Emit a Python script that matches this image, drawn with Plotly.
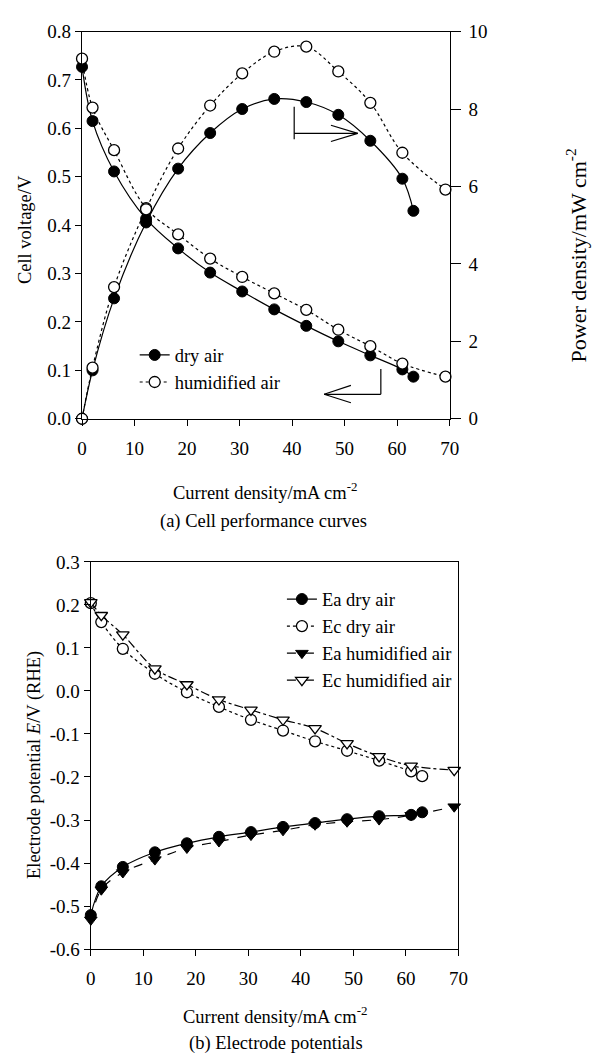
import plotly.graph_objects as go

# Current density (mA cm^-2)
i_dry = [0, 2.0, 6.1, 12.2, 18.3, 24.4, 30.5, 36.6, 42.7, 48.8, 54.9, 61.0, 63.1]
i_hum = [0, 2.0, 6.1, 12.2, 18.3, 24.4, 30.5, 36.6, 42.7, 48.8, 54.9, 61.0, 69.2]

# (a) Cell voltage (V) and power density (mW cm^-2)
v_dry = [0.727, 0.615, 0.511, 0.413, 0.352, 0.302, 0.263, 0.226, 0.192, 0.160, 0.131, 0.102, 0.087]
v_hum = [0.744, 0.643, 0.555, 0.435, 0.381, 0.331, 0.293, 0.259, 0.225, 0.184, 0.150, 0.114, 0.087]
p_dry = [0, 1.25, 3.11, 5.07, 6.46, 7.38, 8.00, 8.26, 8.18, 7.85, 7.18, 6.20, 5.37]
p_hum = [0, 1.32, 3.40, 5.41, 6.98, 8.09, 8.92, 9.48, 9.61, 8.97, 8.16, 6.87, 5.92]

# (b) Anode / cathode potentials (V vs RHE)
ea_dry = [-0.521, -0.454, -0.409, -0.375, -0.354, -0.339, -0.328, -0.316, -0.307, -0.298, -0.291, -0.288, -0.282]
ec_dry = [0.204, 0.160, 0.098, 0.040, -0.003, -0.037, -0.067, -0.092, -0.117, -0.139, -0.162, -0.187, -0.198]
ea_hum = [-0.532, -0.462, -0.422, -0.392, -0.365, -0.350, -0.335, -0.324, -0.311, -0.304, -0.299, -0.289, -0.269]
ec_hum = [0.206, 0.176, 0.131, 0.052, 0.015, -0.020, -0.044, -0.067, -0.087, -0.122, -0.152, -0.174, -0.184]

x_ticks = [0, 10, 20, 30, 40, 50, 60, 70]
v_ticks = [0.0, 0.1, 0.2, 0.3, 0.4, 0.5, 0.6, 0.7, 0.8]
p_ticks = [0, 2, 4, 6, 8, 10]
e_ticks = [0.3, 0.2, 0.1, 0.0, -0.1, -0.2, -0.3, -0.4, -0.5, -0.6]

W, H = 602, 1064
FONT = "Times New Roman, Liberation Serif, DejaVu Serif, serif"
FS = 18.5      # titles and legend
TFS = 19       # tick labels
LW = 1.2


def px_x(p):
    return p / W


def px_y(p):
    return 1 - p / H


def filled(sym):
    return dict(symbol=sym, size=11, color="black", line=dict(color="black", width=1))


def hollow(sym):
    return dict(symbol=sym, size=11, color="white", line=dict(color="black", width=1.3))


fig = go.Figure()

common = dict(mode="lines+markers", line_shape="spline", cliponaxis=False)

# top panel: voltage on y, power on y2
fig.add_trace(go.Scatter(x=i_dry, y=v_dry, name="dry air", xaxis="x", yaxis="y",
                         line=dict(color="black", width=LW), marker=filled("circle"),
                         legend="legend", **common))
fig.add_trace(go.Scatter(x=i_hum, y=v_hum, name="humidified air", xaxis="x", yaxis="y",
                         line=dict(color="black", width=LW, dash="dot"), marker=hollow("circle"),
                         legend="legend", **common))
fig.add_trace(go.Scatter(x=i_dry, y=p_dry, name="dry air", xaxis="x", yaxis="y2",
                         line=dict(color="black", width=LW), marker=filled("circle"),
                         showlegend=False, **common))
fig.add_trace(go.Scatter(x=i_hum, y=p_hum, name="humidified air", xaxis="x", yaxis="y2",
                         line=dict(color="black", width=LW, dash="dot"), marker=hollow("circle"),
                         showlegend=False, **common))

# bottom panel: electrode potentials
fig.add_trace(go.Scatter(x=i_dry, y=ea_dry, name="Ea dry air", xaxis="x2", yaxis="y3",
                         line=dict(color="black", width=LW), marker=filled("circle"),
                         legend="legend2", **common))
fig.add_trace(go.Scatter(x=i_dry, y=ec_dry, name="Ec dry air", xaxis="x2", yaxis="y3",
                         line=dict(color="black", width=LW, dash="dot"), marker=hollow("circle"),
                         legend="legend2", **common))
fig.add_trace(go.Scatter(x=i_hum, y=ea_hum, name="Ea humidified air", xaxis="x2", yaxis="y3",
                         line=dict(color="black", width=LW, dash="dash"), marker=filled("triangle-down"),
                         legend="legend2", **common))
fig.add_trace(go.Scatter(x=i_hum, y=ec_hum, name="Ec humidified air", xaxis="x2", yaxis="y3",
                         line=dict(color="black", width=LW, dash="dashdot"), marker=hollow("triangle-down"),
                         legend="legend2", **common))

tickfont = dict(family=FONT, size=TFS, color="black")
axis_common = dict(showgrid=False, zeroline=False, showline=True, linecolor="black", linewidth=1.3,
                   ticks="outside", ticklen=6, tickwidth=1.2, tickcolor="black", tickfont=tickfont)

fig.update_layout(
    width=W, height=H,
    margin=dict(l=0, r=0, t=0, b=0),
    paper_bgcolor="white", plot_bgcolor="white",
    font=dict(family=FONT, size=FS, color="black"),
    xaxis=dict(domain=[px_x(79), px_x(456)], range=[0, 70], anchor="y",
               tickvals=x_ticks, mirror=True, ticklabelstandoff=6, **axis_common),
    yaxis=dict(domain=[px_y(417), px_y(22)], range=[0, 0.8], anchor="x",
               tickvals=v_ticks, ticktext=[f"{v:.1f}" for v in v_ticks], **axis_common),
    yaxis2=dict(range=[0, 10], overlaying="y", side="right", anchor="x",
                tickvals=p_ticks, ticklabelstandoff=4, **{**axis_common, "ticklen": 10}),
    xaxis2=dict(domain=[px_x(88), px_x(465)], range=[0, 70], anchor="y3",
                tickvals=x_ticks, mirror=True, ticklabelstandoff=6, **axis_common),
    yaxis3=dict(domain=[px_y(958), px_y(563)], range=[-0.6, 0.3], anchor="x2",
                tickvals=e_ticks, ticktext=[f"{v:.1f}" for v in e_ticks],
                mirror=True, **axis_common),
    legend=dict(x=px_x(133), y=px_y(333), xanchor="left", yanchor="top",
                bgcolor="rgba(0,0,0,0)", font=dict(family=FONT, size=FS), tracegroupgap=0),
    legend2=dict(x=px_x(284), y=px_y(582), xanchor="left", yanchor="top",
                 bgcolor="rgba(0,0,0,0)", font=dict(family=FONT, size=FS), tracegroupgap=0),
    showlegend=True,
)

# arrows pointing to the axis each curve family belongs to
arrow = dict(type="line", line=dict(color="black", width=1.2))
shapes = [
    # -> power density (right axis)
    dict(xref="x", yref="y2", x0=40.4, x1=40.4, y0=7.22, y1=8.06, **arrow),
    dict(xref="x", yref="y2", x0=40.4, x1=52.5, y0=7.37, y1=7.37, **arrow),
    dict(xref="x", yref="y2", x0=47.4, x1=52.5, y0=7.58, y1=7.37, **arrow),
    dict(xref="x", yref="y2", x0=47.4, x1=52.5, y0=7.16, y1=7.37, **arrow),
    # <- cell voltage (left axis)
    dict(xref="x", yref="y", x0=56.9, x1=56.9, y0=0.0506, y1=0.103, **arrow),
    dict(xref="x", yref="y", x0=46.1, x1=56.9, y0=0.0506, y1=0.0506, **arrow),
    dict(xref="x", yref="y", x0=46.1, x1=51.2, y0=0.0506, y1=0.069, **arrow),
    dict(xref="x", yref="y", x0=46.1, x1=51.2, y0=0.0506, y1=0.033, **arrow),
]
fig.update_layout(shapes=shapes)

# (text, centre x px, centre y px, angle, size)
titles = [
    ("Cell voltage/V", 20, 224, -90, FS),
    ("Power density/mW cm<sup>-2</sup>", 586, 250, -90, 22),
    ("Current density/mA cm<sup>-2</sup>", 267, 491, 0, FS),
    ("(a) Cell performance curves", 265, 522, 0, FS),
    ("Electrode potential <i>E</i>/V (RHE)", 31, 770, -90, FS),
    ("Current density/mA cm<sup>-2</sup>", 277, 1025, 0, FS),
    ("(b) Electrode potentials", 278, 1054, 0, FS),
]
for text, cx, cy, ang, size in titles:
    fig.add_annotation(text=text, xref="paper", yref="paper", x=px_x(cx), y=px_y(cy),
                       xanchor="center", yanchor="middle", showarrow=False, textangle=ang,
                       font=dict(family=FONT, size=size, color="black"))

fig.write_html("out.html")
